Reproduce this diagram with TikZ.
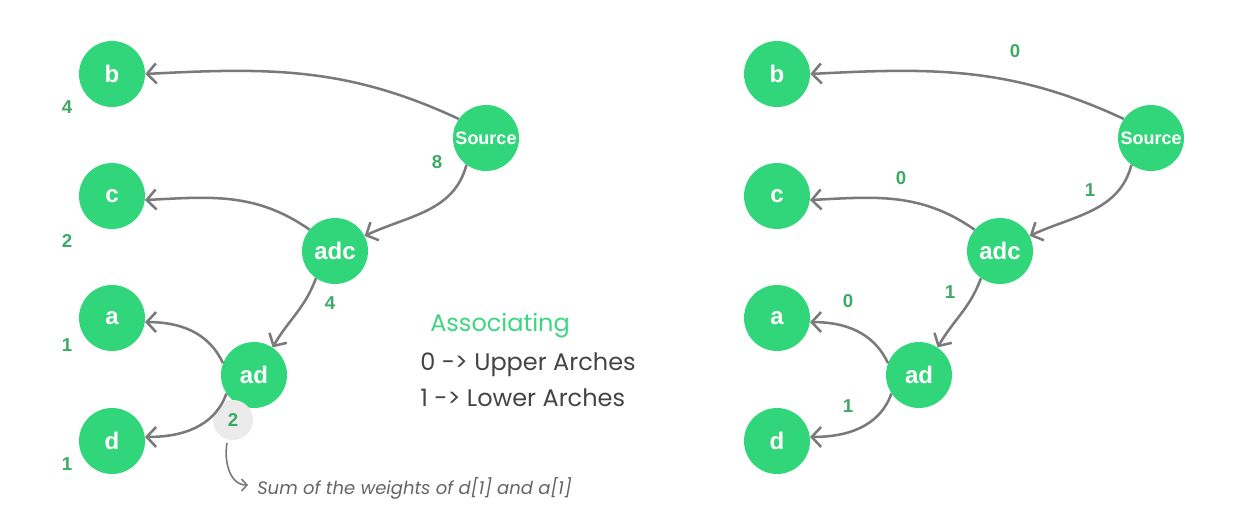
\documentclass[tikz,border=0pt]{standalone}
\usepackage{fontspec}
\setmainfont{Liberation Sans}
\newfontfamily\legendfont{Poppins}
\usetikzlibrary{arrows.meta}
\definecolor{nodegreen}{RGB}{50,214,122}
\definecolor{wgreen}{RGB}{60,170,100}
\definecolor{lgreen}{RGB}{60,214,128}
\definecolor{edgegray}{RGB}{122,122,122}
\definecolor{txtgray}{RGB}{68,68,68}
\definecolor{notegray}{RGB}{100,100,100}
\definecolor{bubble}{RGB}{235,235,235}
\tikzset{
  x=0.75pt, y=-0.75pt,
  vert/.style={circle, fill=nodegreen, minimum size=49.5pt, inner sep=0pt, text=white, font=\bfseries\fontsize{18}{18}\selectfont},
  srcvert/.style={vert, font=\bfseries\fontsize{13.5}{13.5}\selectfont},
  wt/.style={text=wgreen, font=\bfseries\fontsize{14}{14}\selectfont, inner sep=0pt},
  edge/.style={draw=edgegray, line width=1.9pt, -{Straight Barb[length=7pt,width=15pt]}},
  legend/.style={anchor=west, inner sep=0pt, font=\legendfont\fontsize{18}{18}\selectfont},
}
\begin{document}
\begin{tikzpicture}
\useasboundingbox (0,0) rectangle (1256,508);
% ---------- left graph ----------
\node[vert] (b) at (112,74) {b};
\node[vert] (c) at (112,196) {c};
\node[vert] (a) at (112,318) {a};
\node[vert] (d) at (112,441) {d};
\node[srcvert] (src) at (486,138) {Source};
\node[vert] (adc) at (335,251) {adc};
\node[vert] (ad) at (254,375) {ad};
\node[wt] (wb) at (67,107) {4};
\node[wt] (wc) at (67,241) {2};
\node[wt] (wa) at (67,345) {1};
\node[wt] (wd) at (67,464) {1};
\node[wt] (wsrc) at (437,162) {8};
\node[wt] (wadc) at (330,303) {4};
\node[circle, fill=bubble, minimum size=30pt, inner sep=0pt] (bub) at (233,420) {};
\node[wt] (wad) at (bub.center) {2};
\draw[edge] (src.145) to[out=155, in=3] (b.east);
\draw[edge] (src.234) to[out=-105, in=25] (adc.27);
\draw[edge] (adc.140) to[out=145, in=3] (c.-7);
\draw[edge] (adc.235) to[out=-110, in=60] (ad.56);
\draw[edge] (ad.159) to[out=115, in=0] (a.-7);
\draw[edge] (ad.214) to[out=-110, in=0] (d.7);
\coordinate (ann) at (227,443);
\coordinate (annend) at (248,485);
\node[anchor=west, inner sep=0pt, text=notegray, font=\legendfont\itshape\fontsize{13.5}{13.5}\selectfont] (note) at (257,488) {Sum of the weights of d[1] and a[1]};
\draw[draw=edgegray, line width=1.2pt, -{Straight Barb[length=4pt,width=9pt]}] (ann) to[out=-100, in=180] (annend);
% legend
\node[legend, text=lgreen] (assoc) at (430,326) {Associating};
\node[legend, text=txtgray] (up) at (420,365) {0 -> Upper Arches};
\node[legend, text=txtgray] (low) at (420,398) {1 -> Lower Arches};
% ---------- right graph ----------
\begin{scope}[shift={(665,0)}]
\node[vert] (rb) at (112,74) {b};
\node[vert] (rc) at (112,196) {c};
\node[vert] (ra) at (112,318) {a};
\node[vert] (rd) at (112,441) {d};
\node[srcvert] (rsrc) at (486,138) {Source};
\node[vert] (radc) at (335,251) {adc};
\node[vert] (rad) at (254,375) {ad};
\draw[edge] (rsrc.145) to[out=155, in=3] (rb.east);
\draw[edge] (rsrc.234) to[out=-105, in=25] (radc.27);
\draw[edge] (radc.140) to[out=145, in=3] (rc.-7);
\draw[edge] (radc.235) to[out=-110, in=60] (rad.56);
\draw[edge] (rad.159) to[out=115, in=0] (ra.-7);
\draw[edge] (rad.214) to[out=-110, in=0] (rd.7);
\node[wt] (l1) at (350,51) {0};
\node[wt] (l2) at (425,190) {1};
\node[wt] (l3) at (236,178) {0};
\node[wt] (l4) at (285,292) {1};
\node[wt] (l5) at (183,301) {0};
\node[wt] (l6) at (183,406) {1};
\end{scope}
\end{tikzpicture}
\end{document}
